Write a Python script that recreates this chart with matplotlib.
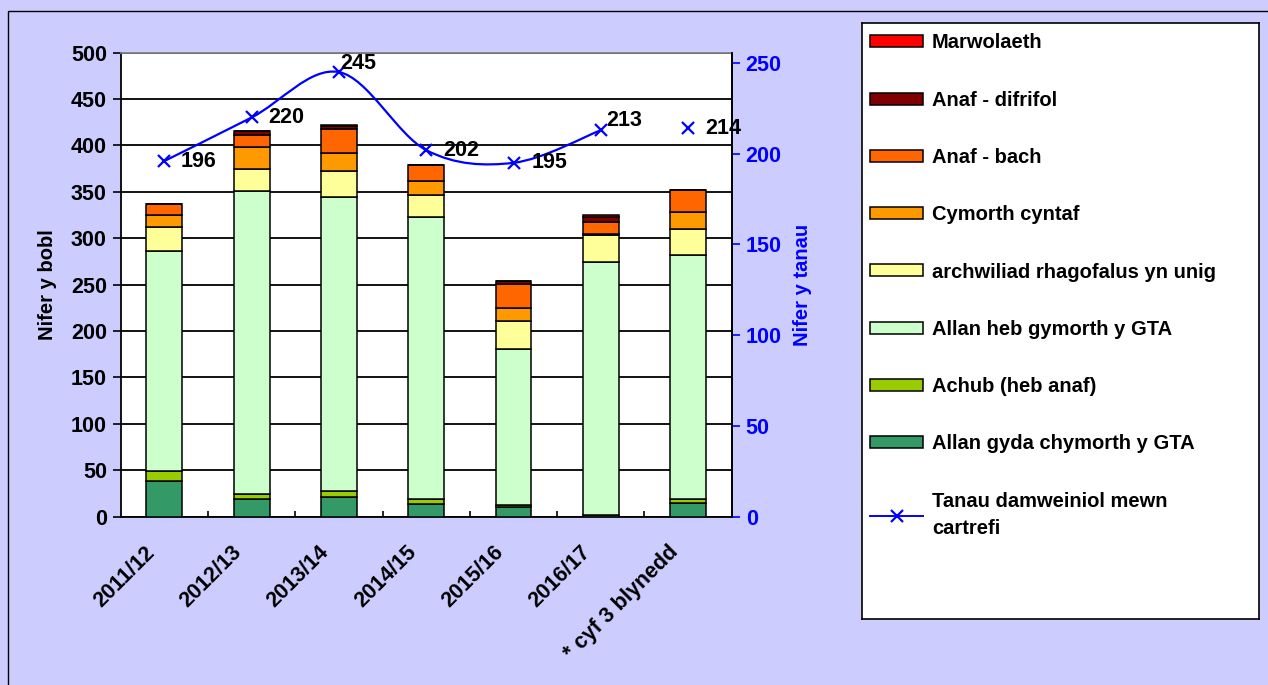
import numpy as np
import matplotlib.pyplot as plt
from matplotlib.path import Path
from matplotlib.patches import PathPatch, Rectangle
from matplotlib.lines import Line2D

categories = ['2011/12', '2012/13', '2013/14', '2014/15', '2015/16', '2016/17', '* cyf 3 blynedd']

# stacked from the bottom up
allan_gyda = [38, 19, 21, 14, 10, 2, 15]
achub = [11, 5, 7, 5, 3, 0, 4]
allan_heb = [237, 327, 317, 304, 168, 272, 263]
archwiliad = [26, 24, 28, 24, 30, 29, 28]
cymorth = [13, 23, 19, 15, 14, 2, 18]
anaf_bach = [12, 13, 26, 17, 26, 13, 24]
anaf_difrifol = [0, 5, 3, 0, 3, 5, 0]
marwolaeth = [0, 0, 1, 0, 0, 2, 0]

tanau = [196, 220, 245, 202, 195, 213, 214]

series = [
    ('Allan gyda chymorth y GTA', allan_gyda, '#339966'),
    ('Achub (heb anaf)', achub, '#99CC00'),
    ('Allan heb gymorth y GTA', allan_heb, '#CCFFCC'),
    ('archwiliad rhagofalus yn unig', archwiliad, '#FFFF99'),
    ('Cymorth cyntaf', cymorth, '#FF9900'),
    ('Anaf - bach', anaf_bach, '#FF6600'),
    ('Anaf - difrifol', anaf_difrifol, '#800000'),
    ('Marwolaeth', marwolaeth, '#FF0000'),
]

plt.rcParams['font.family'] = ['Liberation Sans', 'DejaVu Sans']
plt.rcParams['font.weight'] = 'bold'
plt.rcParams['axes.labelweight'] = 'bold'
plt.rcParams['font.size'] = 15.5

fig = plt.figure(figsize=(12.68, 6.85), dpi=100, facecolor='#CCCCFF')
ax = fig.add_axes([0.0952, 0.2457, 0.4819, 0.6774])
ax.set_facecolor('white')

x = np.arange(len(categories))
bottom = np.zeros(len(categories))
bar_handles = []
for name, vals, col in series:
    b = ax.bar(x, vals, 0.41, bottom=bottom, color=col, edgecolor='black',
               linewidth=1.1, label=name, zorder=3)
    bar_handles.append(b)
    bottom += np.array(vals)

ax.set_xlim(-0.5, len(categories) - 0.5)
ax.set_ylim(0, 500)
ax.set_yticks(range(0, 501, 50))
ax.yaxis.grid(True, color='black', linewidth=1.3, zorder=0)
ax.set_axisbelow(True)
# label anchors sit a little left of the bar centres (hidden zero-length ticks)
ax.set_xticks(x - 0.15)
ax.set_xticklabels(categories, rotation=45, ha='right', va='center',
                   rotation_mode='anchor')
ax.set_xticks(np.arange(0.5, len(categories) - 1, 1), minor=True)
ax.tick_params(axis='x', which='major', length=0, pad=23.5)
ax.tick_params(axis='x', which='minor', direction='in', length=4, width=1.2)
ax.tick_params(axis='y', direction='out', length=6, width=1.2, pad=4)
ax.set_ylabel('Nifer y bobl', fontsize=14.5, labelpad=10)
for s in ['left', 'bottom', 'right']:
    ax.spines[s].set_linewidth(1.3)
    ax.spines[s].set_color('black')
ax.spines['top'].set_color('#808080')
ax.spines['top'].set_linewidth(1.3)

# secondary axis: fires
ax2 = ax.twinx()
ax2.set_ylim(0, 255.7)
ax2.set_yticks(range(0, 251, 50))
ax2.tick_params(axis='y', colors='blue', direction='out', length=6, width=1.2, pad=4)
ax2.set_ylabel('Nifer y tanau', color='blue', fontsize=14.5, labelpad=8)
ax2.spines['right'].set_color('black')
ax2.spines['right'].set_linewidth(1.3)
for s in ['left', 'top', 'bottom']:
    ax2.spines[s].set_visible(False)

# smoothed line through the six yearly points (Bezier, like the spreadsheet)
pts = np.column_stack([x[:6], tanau[:6]]).astype(float)
verts = [pts[0]]
for i in range(len(pts) - 1):
    p0 = pts[max(i - 1, 0)]
    p1 = pts[i]
    p2 = pts[i + 1]
    p3 = pts[min(i + 2, len(pts) - 1)]
    verts += [p1 + (p2 - p0) / 6, p2 - (p3 - p1) / 6, p2]
codes = [Path.MOVETO] + [Path.CURVE4] * (len(verts) - 1)
ax2.add_patch(PathPatch(Path(verts, codes), facecolor='none', edgecolor='blue',
                        linewidth=1.6, zorder=4))
ax2.plot(x, tanau, linestyle='none', marker='x', color='blue', markersize=8,
         markeredgewidth=1.6, zorder=5)

offsets = [(12, 0), (12, 0), (1, 6), (12, 0), (13, 0), (4, 7), (12, 0)]
for xi, v, off in zip(x, tanau, offsets):
    ax2.annotate(str(v), (xi, v), xytext=off, textcoords='offset points',
                 ha='left', va='center', color='black', zorder=6)

# legend in its own framed box
lax = fig.add_axes([862 / 1268, 1 - 619 / 685, 397 / 1268, 596 / 685])
lax.set_facecolor('white')
lax.set_xticks([])
lax.set_yticks([])
for s in lax.spines.values():
    s.set_color('black')
    s.set_linewidth(1.2)

line_handle = Line2D([], [], color='blue', marker='x', markersize=8,
                     markeredgewidth=1.6, linewidth=1.4)
handles = bar_handles[::-1] + [line_handle]
labels = [s[0] for s in series[::-1]] + ['Tanau damweiniol mewn\ncartrefi']
leg = lax.legend(handles, labels, loc='upper left',
                 bbox_to_anchor=(0, 0, 1, 1 - 2 / 596),
                 mode='expand', borderaxespad=0, borderpad=0.42,
                 handlelength=2.6, handleheight=0.55, handletextpad=0.45,
                 labelspacing=1.9, frameon=False, fontsize=14.5)
leg.get_texts()[-1].set_linespacing(1.55)

# outer chart border (only left and top edges fall inside the picture)
fig.patches.append(Rectangle((8 / 1268, -0.1), 2, 1.1 - 11 / 685,
                             transform=fig.transFigure, fill=False,
                             edgecolor='black', linewidth=1.0))

fig.savefig('out.png', dpi=100, facecolor=fig.get_facecolor())
